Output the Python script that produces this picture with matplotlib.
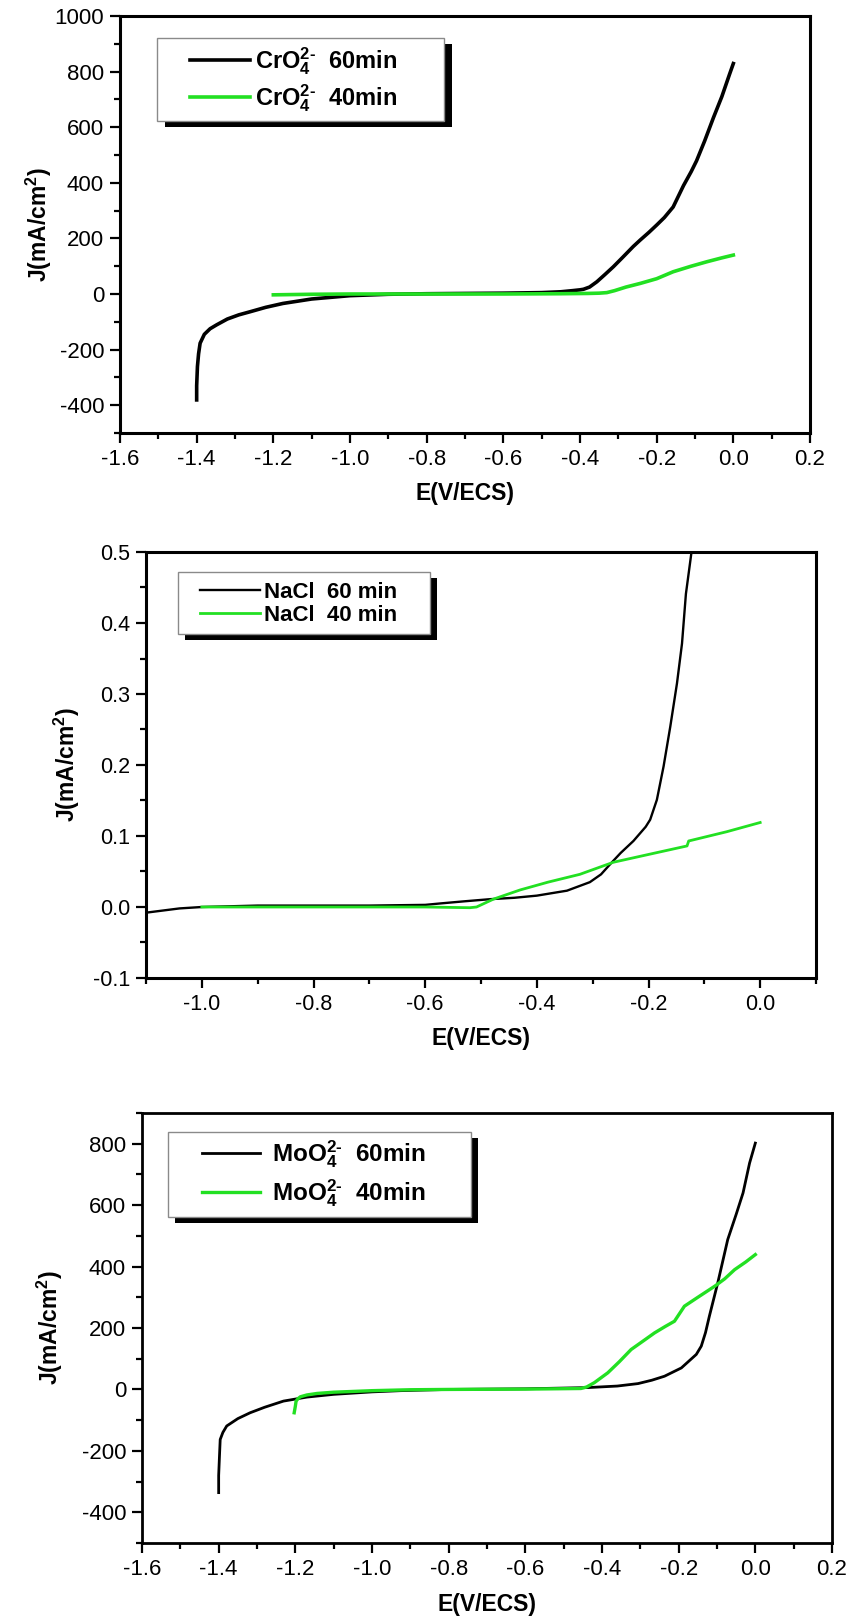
import matplotlib
matplotlib.use("Agg")
import matplotlib.pyplot as plt
from matplotlib.ticker import MultipleLocator, FormatStrFormatter
from matplotlib.patches import Rectangle

plt.rcParams["font.family"] = ["Liberation Sans", "DejaVu Sans"]
plt.rcParams["mathtext.fontset"] = "custom"
plt.rcParams["mathtext.rm"] = "Liberation Sans:bold"
plt.rcParams["mathtext.bf"] = "Liberation Sans:bold"
plt.rcParams["mathtext.it"] = "Liberation Sans:bold"
plt.rcParams["mathtext.sf"] = "Liberation Sans:bold"
plt.rcParams["axes.unicode_minus"] = False

# ---- polarisation curves: potential E (V/ECS) and current density J ----
# chromate, 60 min
cro4_60_E = [-1.400, -1.400, -1.398, -1.395, -1.391, -1.380, -1.365, -1.348, -1.320,
             -1.290, -1.261, -1.220, -1.175, -1.100, -1.000, -0.900, -0.800, -0.700,
             -0.600, -0.500, -0.450, -0.420, -0.400, -0.391, -0.375, -0.356, -0.335,
             -0.313, -0.290, -0.261, -0.243, -0.220, -0.200, -0.180, -0.157, -0.130,
             -0.110, -0.096, -0.075, -0.052, -0.030, -0.010, 0.000]
cro4_60_J = [-381, -330, -261, -215, -177, -145, -125, -111, -90,
             -75, -64, -48, -34, -18, -6, -1, 1, 2,
             3, 5, 8, 12, 15, 17, 25, 44, 70,
             98, 130, 171, 194, 222, 248, 275, 313, 390,
             440, 479, 550, 634, 710, 790, 829]
# chromate, 40 min
cro4_40_E = [-1.200, -1.150, -1.100, -1.000, -0.800, -0.600, -0.450, -0.380, -0.350,
             -0.330, -0.310, -0.280, -0.243, -0.200, -0.157, -0.110, -0.069, -0.030, 0.000]
cro4_40_J = [-3, -2, -1, 0, 0, 0, 1, 2, 3,
             5, 12, 25, 38, 55, 80, 100, 116, 130, 140]

# sodium chloride, 60 min
nacl_60_E = [-1.100, -1.070, -1.040, -1.000, -0.950, -0.900, -0.800, -0.700, -0.600,
             -0.573, -0.530, -0.484, -0.440, -0.400, -0.346, -0.305, -0.285, -0.269,
             -0.250, -0.227, -0.205, -0.197, -0.185, -0.173, -0.161, -0.149, -0.140,
             -0.133, -0.125, -0.118]
nacl_60_J = [-0.008, -0.005, -0.002, 0.000, 0.001, 0.002, 0.002, 0.002, 0.003,
             0.005, 0.008, 0.011, 0.013, 0.016, 0.023, 0.035, 0.046, 0.060,
             0.076, 0.093, 0.113, 0.123, 0.151, 0.198, 0.254, 0.315, 0.371,
             0.441, 0.488, 0.530]
# sodium chloride, 40 min
nacl_40_E = [-1.000, -0.900, -0.800, -0.700, -0.600, -0.520, -0.508, -0.478, -0.430,
             -0.380, -0.323, -0.263, -0.200, -0.131, -0.128, -0.060, 0.000]
nacl_40_J = [0.000, 0.000, 0.000, 0.000, 0.000, -0.001, 0.000, 0.011, 0.024,
             0.035, 0.046, 0.063, 0.074, 0.086, 0.093, 0.106, 0.119]

# molybdate, 60 min
moo4_60_E = [-1.400, -1.400, -1.398, -1.396, -1.389, -1.379, -1.350, -1.318, -1.280,
             -1.231, -1.170, -1.100, -1.000, -0.925, -0.800, -0.600, -0.437, -0.360,
             -0.306, -0.270, -0.237, -0.193, -0.154, -0.141, -0.130, -0.120, -0.098,
             -0.072, -0.050, -0.032, -0.015, 0.000]
moo4_60_J = [-336, -280, -220, -163, -140, -119, -95, -76, -58,
             -38, -25, -16, -8, -4, 0, 2, 6, 11,
             19, 30, 43, 70, 114, 141, 185, 238, 347,
             488, 570, 640, 737, 802]
# molybdate, 40 min
moo4_40_E = [-1.203, -1.200, -1.198, -1.193, -1.187, -1.170, -1.143, -1.100, -1.000,
             -0.900, -0.800, -0.600, -0.455, -0.440, -0.420, -0.385, -0.355, -0.324,
             -0.290, -0.263, -0.235, -0.211, -0.185, -0.150, -0.106, -0.080, -0.054,
             -0.025, 0.000]
moo4_40_J = [-76, -55, -38, -30, -24, -18, -13, -9, -4,
             -1, 0, 1, 3, 8, 22, 54, 90, 130,
             160, 184, 205, 222, 271, 300, 336, 360, 390,
             415, 439]

labels_cro4 = [r"CrO$_4^{2\text{-}}$  60min", r"CrO$_4^{2\text{-}}$  40min"]
labels_nacl = ["NaCl  60 min", "NaCl  40 min"]
labels_moo4 = [r"MoO$_4^{2\text{-}}$  60min", r"MoO$_4^{2\text{-}}$  40min"]

XLABEL = "E(V/ECS)"
YLABEL = r"J(mA/cm$^2$)"

GREEN = "#22e022"

W, H = 851, 1618
fig = plt.figure(figsize=(W / 100, H / 100), dpi=100)

BOX1 = (120, 16, 810, 433)
BOX2 = (146, 552, 816, 978)
BOX3 = (142, 1113, 832, 1543)


def px_axes(box):
    l, t, r, b = box
    return fig.add_axes([l / W, 1 - b / H, (r - l) / W, (b - t) / H])


def to_axes(box, px, py):
    l, t, r, b = box
    return (px - l) / (r - l), (b - py) / (b - t)


ax1 = px_axes(BOX1)
ax2 = px_axes(BOX2)
ax3 = px_axes(BOX3)


def style(ax, spine_w, xmaj, xmin, ymaj, ymin, xfmt, yfmt, tsize):
    for s in ax.spines.values():
        s.set_linewidth(spine_w)
    ax.xaxis.set_major_locator(MultipleLocator(xmaj))
    ax.xaxis.set_minor_locator(MultipleLocator(xmin))
    ax.yaxis.set_major_locator(MultipleLocator(ymaj))
    ax.yaxis.set_minor_locator(MultipleLocator(ymin))
    ax.xaxis.set_major_formatter(FormatStrFormatter(xfmt))
    ax.yaxis.set_major_formatter(FormatStrFormatter(yfmt))
    ax.tick_params(which="both", direction="out", top=False, right=False,
                   width=1.6)
    ax.tick_params(which="major", length=7.5, labelsize=tsize)
    ax.tick_params(axis="x", which="major", pad=4)
    ax.tick_params(axis="y", which="major", pad=4)
    ax.tick_params(which="minor", length=4.5)


def add_labels(ax, xy, yx, size=16.5):
    ax.set_xlabel(XLABEL, fontsize=size, fontweight="bold")
    ax.set_ylabel(YLABEL, fontsize=size, fontweight="bold")
    ax.xaxis.set_label_coords(0.5, xy)
    ax.yaxis.set_label_coords(yx, 0.5)
    ax.xaxis.label.set_va("center")
    ax.yaxis.label.set_va("center")


def add_legend(ax, box, frame_px, shadow_off, line_x, rows_y, size, hlen,
               tpad, lspace):
    # white framed box with a solid black drop shadow, Origin style
    fl, ft, fr, fb = frame_px
    dx, dy = shadow_off
    x0, y0 = to_axes(box, fl + dx, fb + dy)
    x1, y1 = to_axes(box, fr + dx, ft + dy)
    ax.add_patch(Rectangle((x0, y0), x1 - x0, y1 - y0, transform=ax.transAxes,
                           facecolor="black", edgecolor="none", zorder=4.4,
                           clip_on=False))
    x0, y0 = to_axes(box, fl, fb)
    x1, y1 = to_axes(box, fr, ft)
    ax.add_patch(Rectangle((x0, y0), x1 - x0, y1 - y0, transform=ax.transAxes,
                           facecolor="white", edgecolor="#8a8a8a", lw=1.0,
                           zorder=4.6, clip_on=False))
    anchor = to_axes(box, line_x, sum(rows_y) / 2)
    leg = ax.legend(loc="center left", bbox_to_anchor=anchor, borderaxespad=0,
                    frameon=False, handlelength=hlen, handletextpad=tpad,
                    labelspacing=lspace, borderpad=0,
                    prop={"weight": "bold", "size": size})
    leg.set_zorder(5)
    return leg


# ---- panel 1: chromate ----
ax1.plot(cro4_60_E, cro4_60_J, color="black", lw=2.6, label=labels_cro4[0])
ax1.plot(cro4_40_E, cro4_40_J, color=GREEN, lw=2.6, label=labels_cro4[1])
ax1.set_xlim(-1.6, 0.2)
ax1.set_ylim(-500, 1000)
style(ax1, 2.2, 0.2, 0.1, 200, 100, "%.1f", "%d", 16)
add_labels(ax1, -0.144, -0.117)
add_legend(ax1, BOX1, (157, 38, 444, 121), (8, 6), 190, (62, 97),
           17, 2.55, 0.2, 0.22)

# ---- panel 2: sodium chloride ----
ax2.plot(nacl_60_E, nacl_60_J, color="black", lw=1.7, label=labels_nacl[0])
ax2.plot(nacl_40_E, nacl_40_J, color=GREEN, lw=2.0, label=labels_nacl[1])
ax2.set_xlim(-1.1, 0.1)
ax2.set_ylim(-0.1, 0.5)
style(ax2, 2.2, 0.2, 0.1, 0.1, 0.05, "%.1f", "%.1f", 15.5)
add_labels(ax2, -0.143, -0.118)
add_legend(ax2, BOX2, (178, 572, 430, 634), (7, 6), 200, (591, 617),
           16, 2.7, 0.2, 0.1)

# ---- panel 3: molybdate ----
ax3.plot(moo4_60_E, moo4_60_J, color="black", lw=2.0, label=labels_moo4[0])
ax3.plot(moo4_40_E, moo4_40_J, color=GREEN, lw=2.4, label=labels_moo4[1])
ax3.set_xlim(-1.6, 0.2)
ax3.set_ylim(-500, 900)
style(ax3, 2.0, 0.2, 0.1, 200, 100, "%.1f", "%d", 16)
add_labels(ax3, -0.144, -0.133)
add_legend(ax3, BOX3, (168, 1132, 471, 1217), (7, 6), 202, (1155, 1193),
           17.5, 2.4, 0.5, 0.3)

fig.savefig("out.png", dpi=100)
